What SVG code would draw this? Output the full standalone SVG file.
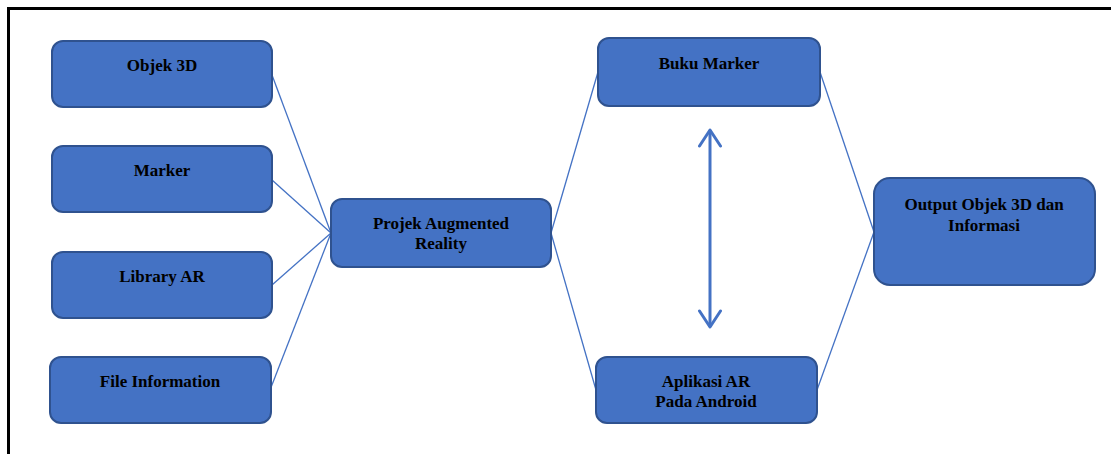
<svg xmlns="http://www.w3.org/2000/svg" width="1111" height="454" viewBox="0 0 1111 454">
  <defs>
    <style>
      .box { fill: #4472C4; stroke: #2F528F; stroke-width: 2; }
      .lbl { font-family: "Liberation Serif", "Times New Roman", serif; font-weight: bold; font-size: 17px; fill: #000; text-anchor: middle; }
      .link { stroke: #4472C4; stroke-width: 1.3; fill: none; }
      .both { stroke: #4472C4; stroke-width: 3; fill: none; }
    </style>
    <!-- open chevron head, tip along +x -->
    <marker id="chev" viewBox="0 0 24 24" refX="19" refY="12" markerWidth="24" markerHeight="24" markerUnits="userSpaceOnUse" orient="auto-start-reverse">
      <path d="M3 1.5 L19 12 L3 22.5" fill="none" stroke="#4472C4" stroke-width="3" stroke-linecap="round" stroke-linejoin="round"/>
    </marker>
  </defs>

  <rect width="1111" height="454" fill="#fff"/>
  <!-- page frame -->
  <polyline points="8.5,454 8.5,8.5 1111,8.5" fill="none" stroke="#000" stroke-width="3"/>

  <g id="connectors">
    <line class="link" x1="272" y1="75" x2="331" y2="233"/>
    <line class="link" x1="272" y1="180" x2="331" y2="233"/>
    <line class="link" x1="272" y1="285" x2="331" y2="233"/>
    <line class="link" x1="270" y1="390" x2="331" y2="233"/>
    <line class="link" x1="551" y1="233" x2="598" y2="72"/>
    <line class="link" x1="551" y1="233" x2="596" y2="390"/>
    <line class="link" x1="820" y1="72" x2="874" y2="232"/>
    <line class="link" x1="817" y1="390" x2="874" y2="232"/>
    <line class="both" x1="710" y1="130" x2="710" y2="327" marker-start="url(#chev)" marker-end="url(#chev)"/>
  </g>

  <g id="objek3d">
    <rect class="box" x="52" y="41" width="220" height="66" rx="11"/>
    <text class="lbl" x="162" y="71">Objek 3D</text>
  </g>
  <g id="marker">
    <rect class="box" x="52" y="146" width="220" height="66" rx="11"/>
    <text class="lbl" x="162" y="176">Marker</text>
  </g>
  <g id="library-ar">
    <rect class="box" x="52" y="252" width="220" height="66" rx="11"/>
    <text class="lbl" x="162" y="282">Library AR</text>
  </g>
  <g id="file-information">
    <rect class="box" x="50" y="357" width="221" height="66" rx="11"/>
    <text class="lbl" x="160" y="387">File Information</text>
  </g>
  <g id="projek-ar">
    <rect class="box" x="331" y="199" width="220" height="68" rx="11"/>
    <text class="lbl" x="441" y="229">Projek Augmented</text>
    <text class="lbl" x="441" y="249">Reality</text>
  </g>
  <g id="buku-marker">
    <rect class="box" x="598" y="38" width="222" height="68" rx="11"/>
    <text class="lbl" x="709" y="69">Buku Marker</text>
  </g>
  <g id="aplikasi-ar">
    <rect class="box" x="596" y="357" width="221" height="66" rx="11"/>
    <text class="lbl" x="706" y="387">Aplikasi AR</text>
    <text class="lbl" x="706" y="407">Pada Android</text>
  </g>
  <g id="output">
    <rect class="box" x="874" y="178" width="221" height="107" rx="16"/>
    <text class="lbl" x="984" y="210">Output Objek 3D dan</text>
    <text class="lbl" x="984" y="231">Informasi</text>
  </g>
</svg>
